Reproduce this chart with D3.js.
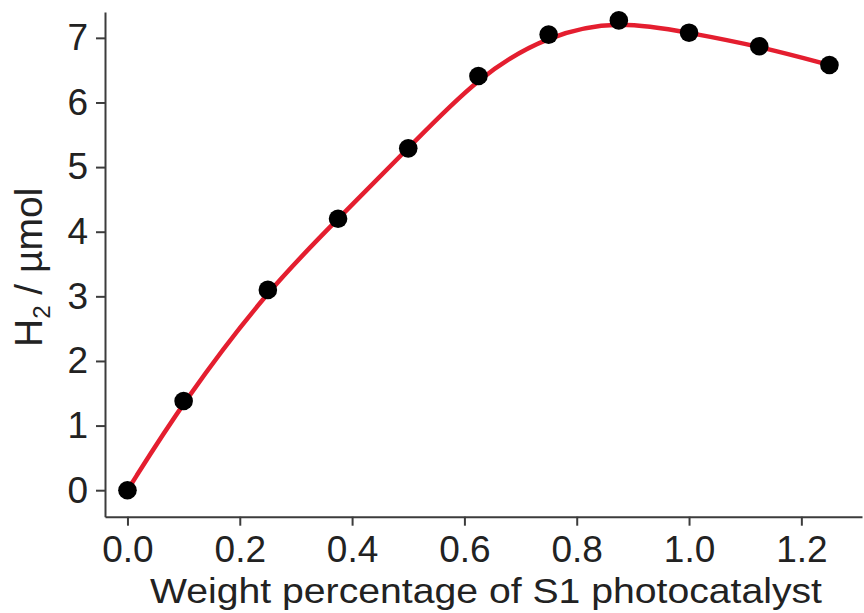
<!DOCTYPE html>
<html>
<head>
<meta charset="utf-8">
<script src="https://cdn.jsdelivr.net/npm/d3@7"></script>
<style>
  html, body { margin: 0; padding: 0; background: #fff; }
  svg { display: block; font-family: "Liberation Sans", Arial, sans-serif; }
</style>
</head>
<body>
<svg id="chart" width="864" height="613"></svg>
<script>
// Catalyst loading (wt%) and hydrogen evolved (µmol)
const weightPct = [0, 0.1, 0.25, 0.375, 0.5, 0.625, 0.75, 0.875, 1.0, 1.125, 1.25];
const h2Umol    = [0, 1.38, 3.10, 4.20, 5.29, 6.41, 7.05, 7.27, 7.08, 6.87, 6.58];
const xMajorTicks = [0, 0.2, 0.4, 0.6, 0.8, 1.0, 1.2];
const xMinorTicks = [0.1, 0.3, 0.5, 0.7, 0.9, 1.1, 1.3];
const yMajorTicks = [0, 1, 2, 3, 4, 5, 6, 7];
const yMinorTicks = [0.5, 1.5, 2.5, 3.5, 4.5, 5.5, 6.5];

const svg = d3.select("#chart");
const plotLeft = 105, plotRight = 862, plotTop = 12, plotBottom = 516.7;

const x = d3.scaleLinear().domain([-0.04, 1.308]).range([plotLeft, plotRight]);
const y = d3.scaleLinear().domain([-0.41, 7.40]).range([plotBottom, plotTop]);

const axisColor = "#3c3c3c";
const textColor = "#222";

// x axis: major + minor ticks pointing outward
const gx = svg.append("g").attr("transform", `translate(0,${plotBottom})`);
gx.call(d3.axisBottom(x).tickValues(xMinorTicks).tickSize(5).tickFormat(""));
gx.call(d3.axisBottom(x).tickValues(xMajorTicks).tickSizeInner(9).tickSizeOuter(0)
  .tickPadding(10).tickFormat(d3.format(".1f")));

// y axis
const gy = svg.append("g").attr("transform", `translate(${plotLeft},0)`);
gy.call(d3.axisLeft(y).tickValues(yMinorTicks).tickSize(5).tickFormat(""));
gy.call(d3.axisLeft(y).tickValues(yMajorTicks).tickSizeInner(9).tickSizeOuter(0)
  .tickPadding(8).tickFormat(d3.format("d")));

svg.selectAll(".domain").attr("stroke", axisColor).attr("stroke-width", 2);
svg.selectAll(".tick line").attr("stroke", axisColor).attr("stroke-width", 2);
svg.selectAll(".tick text").attr("fill", textColor).attr("font-size", 37)
  .attr("font-family", "'Liberation Sans', Arial, sans-serif");

// Smoothed trend line through the measurements
const pts = weightPct.map((v, i) => [v, h2Umol[i]]);
svg.append("path")
  .datum(pts)
  .attr("fill", "none")
  .attr("stroke", "#e41e2f")
  .attr("stroke-width", 4.5)
  .attr("d", d3.line().x(d => x(d[0])).y(d => y(d[1])).curve(d3.curveBasis));

// Data markers
svg.append("g").selectAll("circle")
  .data(pts)
  .join("circle")
  .attr("cx", d => x(d[0]))
  .attr("cy", d => y(d[1]))
  .attr("r", 9.3)
  .attr("fill", "#000");

// Axis titles
svg.append("text")
  .attr("x", 150).attr("y", 603)
  .attr("font-size", 35)
  .attr("fill", textColor)
  .attr("textLength", 672)
  .attr("lengthAdjust", "spacingAndGlyphs")
  .text("Weight percentage of S1 photocatalyst");

const yl = svg.append("text")
  .attr("transform", "translate(42,347) rotate(-90)")
  .attr("font-size", 39)
  .attr("fill", textColor);
yl.append("tspan").text("H");
yl.append("tspan").attr("font-size", 24).attr("dy", 8).text("2");
yl.append("tspan").attr("dy", -8).text(" / µmol");
</script>
</body>
</html>
